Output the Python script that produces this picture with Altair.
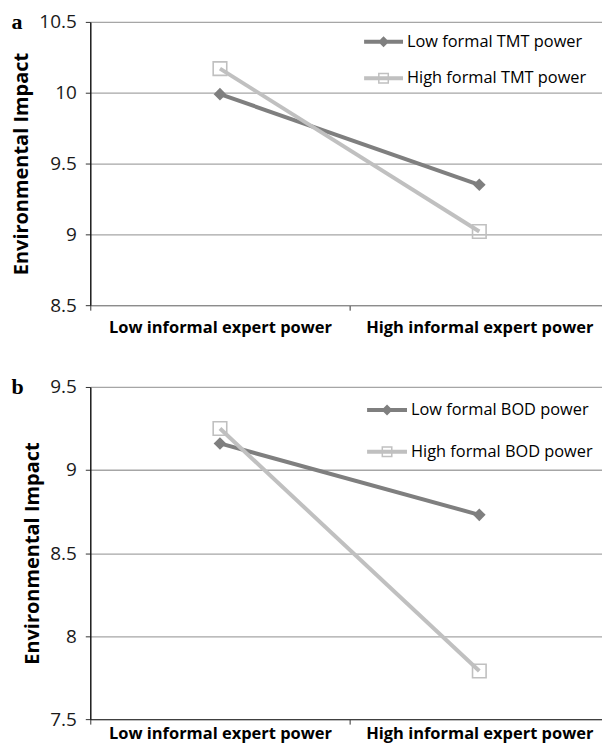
import altair as alt
import pandas as pd

# ---- data ----
categories = ["Low informal expert power", "High informal expert power"]

series_a = ["Low formal TMT power", "High formal TMT power"]
a_low = [9.99, 9.35]
a_high = [10.17, 9.02]
y_ticks_a = [8.5, 9, 9.5, 10, 10.5]

series_b = ["Low formal BOD power", "High formal BOD power"]
b_low = [9.16, 8.73]
b_high = [9.25, 7.79]
y_ticks_b = [7.5, 8, 8.5, 9, 9.5]

panel_letters = ["a", "b"]

DARK = "#7f7f7f"
LIGHT = "#c0c0c0"
FONT = "Open Sans"


def legend_paths(scale):
    """Legend symbols (line + marker) as custom paths in [-1, 1] units."""
    h = 2.0 / scale          # half line thickness (px -> units)
    d = 5.5 / scale          # diamond half-diagonal
    so = 5.5 / scale         # square outer half-side
    si = 4.0 / scale         # square inner half-side
    line = f"M-1,{-h}L1,{-h}L1,{h}L-1,{h}Z"
    diamond = f"M{-d},0L0,{-d}L{d},0L0,{d}Z"
    sq_out = f"M{-so},{-so}L{so},{-so}L{so},{so}L{-so},{so}Z"
    sq_in = f"M{-si},{-si}L{-si},{si}L{si},{si}L{si},{-si}Z"
    return [line + " " + diamond, line + " " + sq_out + " " + sq_in]


def panel(letter, names, low, high, yticks, height, xdom_color, leg_x, leg_y, leg_size, leg_row, xlab_pad):
    rows = []
    for name, vals in zip(names, [low, high]):
        for i, v in enumerate(vals):
            rows.append({"series": name, "pos": i + 0.5, "value": v})
    df = pd.DataFrame(rows)

    n = len(categories)
    label_expr = " : ".join(
        f"datum.value == {i + 0.5} ? '{c}'" for i, c in enumerate(categories)
    ) + " : ''"
    centers = " || ".join(f"datum.value == {i + 0.5}" for i in range(n))

    x = alt.X(
        "pos:Q",
        scale=alt.Scale(domain=[0, n]),
        axis=alt.Axis(
            values=[k / 2 for k in range(2 * n + 1)],
            labelExpr=label_expr,
            tickOpacity={"condition": {"test": centers, "value": 0}, "value": 1},
            grid=False,
            title=None,
            labelFont=FONT,
            labelFontSize=16.5,
            labelFontWeight="bold",
            labelColor="#000000",
            labelPadding=xlab_pad,
            labelLimit=400,
            labelFlush=False,
            labelOverlap=False,
            tickSize=5,
            tickColor="#333333",
            domainColor=xdom_color,
            domainWidth=1.4,
        ),
    )
    y = alt.Y(
        "value:Q",
        scale=alt.Scale(domain=[yticks[0], yticks[-1]], nice=False, zero=False),
        axis=alt.Axis(
            values=yticks,
            format="~g",
            title="Environmental Impact",
            titleFont=FONT,
            titleFontSize=20,
            titleFontWeight="bold",
            titleColor="#000000",
            titlePadding=7,
            labelFont=FONT,
            labelFontSize=19,
            labelColor="#1a1a1a",
            labelPadding=9,
            tickSize=5,
            tickColor="#333333",
            domainColor="#111111",
            domainWidth=1.4,
            grid=True,
            gridColor="#a6a6a6",
            gridWidth=1.3,
        ),
    )

    layers = []
    styles = [
        dict(shape="diamond", filled=True, size=160, strokeWidth=0),
        dict(shape="square", filled=False, size=185, strokeWidth=1.6),
    ]
    for name, color, st in zip(names, [DARK, LIGHT], styles):
        sub = alt.Chart(df).transform_filter(alt.datum.series == name)
        layers.append(sub.mark_line(color=color, strokeWidth=4).encode(x=x, y=y))
        layers.append(
            sub.mark_point(color=color, opacity=1, **st).encode(x=x, y=y)
        )

    scale_px = leg_size ** 0.5 / 2
    leg = alt.Legend(
        title=None,
        orient="none",
        legendX=leg_x,
        legendY=leg_y,
        symbolSize=leg_size,
        symbolStrokeWidth=0,
        symbolOpacity=1,
        labelFont=FONT,
        labelFontSize=16.4,
        labelColor="#000000",
        labelOffset=4,
        labelLimit=400,
        rowPadding=leg_row,
        padding=0,
    )
    proxy = (
        alt.Chart(df)
        .transform_filter("false")
        .mark_point(filled=True, opacity=1)
        .encode(
            x=x,
            y=y,
            color=alt.Color("series:N", scale=alt.Scale(domain=names, range=[DARK, LIGHT]), legend=leg),
            shape=alt.Shape("series:N", scale=alt.Scale(domain=names, range=legend_paths(scale_px)), legend=leg),
        )
    )
    layers.append(proxy)

    # panel letter (annotation at the top-left corner of the panel)
    tag = (
        alt.Chart(pd.DataFrame({"letter": [letter]}))
        .mark_text(font="Liberation Serif", fontSize=22, fontWeight="bold",
                   color="#000000", align="left", baseline="middle")
        .encode(text="letter:N", x=alt.value(-79), y=alt.value(0))
    )
    layers.append(tag)

    return alt.layer(*layers).properties(width=520, height=height)


pa = panel(panel_letters[0], series_a, a_low, a_high, y_ticks_a, 284, "#8c8c8c", 274.5, 0.5, 1521, 8.5, 9)
pb = panel(panel_letters[1], series_b, b_low, b_high, y_ticks_b, 333, "#404040", 277.5, 3, 1600, 13, 1)

chart = (
    alt.vconcat(pa, pb, spacing=39)
    .resolve_scale(color="independent", shape="independent")
    .properties(padding={"left": 2.5, "top": 1, "right": -8, "bottom": 0})
    .configure_view(stroke=None)
    .configure(background="white")
)

chart.save("out.html", embed_options={"renderer": "svg", "actions": False})
